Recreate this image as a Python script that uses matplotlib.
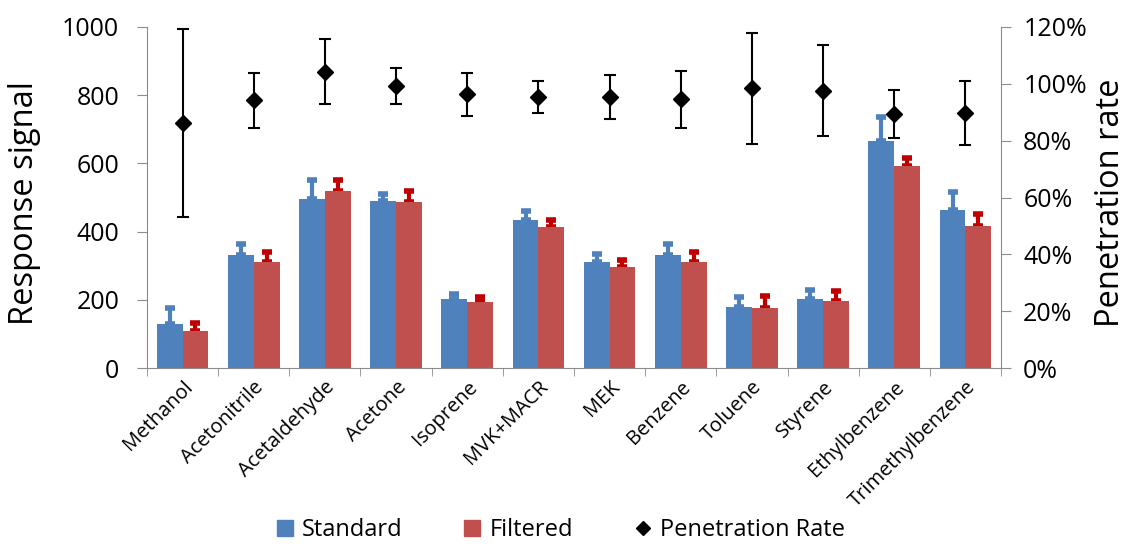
import numpy as np
import matplotlib
matplotlib.use('Agg')
from matplotlib import pyplot as plt
from matplotlib.patches import Patch
from matplotlib.lines import Line2D
from matplotlib.ticker import PercentFormatter

plt.rcParams['font.family'] = ['Open Sans', 'DejaVu Sans']

compounds = ['Methanol', 'Acetonitrile', 'Acetaldehyde', 'Acetone', 'Isoprene', 'MVK+MACR',
             'MEK', 'Benzene', 'Toluene', 'Styrene', 'Ethylbenzene', 'Trimethylbenzene']
standard = [129, 332, 497, 490, 202, 435, 311, 332, 180, 202, 665, 464]
standard_err = [47, 32, 53, 21, 16, 24, 23, 32, 28, 27, 70, 52]
filtered = [109, 311, 519, 487, 194, 413, 296, 311, 176, 197, 593, 417]
filtered_err = [23, 29, 31, 31, 14, 21, 21, 29, 36, 28, 23, 34]
penetration = [86.2, 94.2, 104.3, 99.3, 96.3, 95.4, 95.4, 94.5, 98.5, 97.6, 89.3, 89.7]
penetration_err = [33.0, 9.6, 11.4, 6.4, 7.6, 5.5, 7.6, 9.9, 19.5, 16.0, 8.5, 11.2]

blue = '#4F81BD'
red = '#C0504D'
axis_grey = '#8c8c8c'

fig = plt.figure(figsize=(11.27, 5.45), dpi=100)
ax = fig.add_axes([147 / 1127, 1 - 368 / 545, 854 / 1127, 341 / 545])
x = np.arange(len(compounds))
w = 0.362

ax.bar(x - w / 2, standard, w, color=blue, zorder=2)
ax.bar(x + w / 2, filtered, w, color=red, zorder=2)
ax.errorbar(x - w / 2, standard, yerr=[np.zeros(len(x)), standard_err], fmt='none',
            ecolor=blue, elinewidth=3, capsize=3.3, capthick=4, zorder=1)
ax.errorbar(x + w / 2, filtered, yerr=[np.zeros(len(x)), filtered_err], fmt='none',
            ecolor='#C00000', elinewidth=3, capsize=3.3, capthick=4, zorder=1)

ax.set_xlim(-0.5, len(x) - 0.5)
ax.set_ylim(0, 1000)
ax.set_yticks(range(0, 1001, 200))
ax.set_xticks(x)
ax.set_xticklabels(compounds, rotation=45, ha='right', va='top', rotation_mode='anchor',
                   fontsize=14.5)
ax.set_xticks(np.arange(-0.5, len(x)), minor=True)
ax.tick_params(axis='x', which='major', length=0, pad=6.5)
ax.tick_params(axis='x', which='minor', length=6, color=axis_grey, direction='out')
ax.tick_params(axis='y', length=7, color=axis_grey, labelsize=18, pad=13)
ax.set_ylabel('Response signal', fontsize=23.5, va='center')
ax.yaxis.set_label_coords(-0.144, 0.484)
for side in ['top', 'right']:
    ax.spines[side].set_visible(False)
for side in ['left', 'bottom']:
    ax.spines[side].set_color(axis_grey)

ax2 = ax.twinx()
ax2.errorbar(x, penetration, yerr=penetration_err, fmt='D', color='black', markersize=8,
             ecolor='black', elinewidth=1.5, capsize=4, capthick=1.5)
ax2.set_ylim(0, 120)
ax2.set_yticks(range(0, 121, 20))
ax2.yaxis.set_major_formatter(PercentFormatter(decimals=0))
ax2.tick_params(axis='y', length=7, color=axis_grey, labelsize=18, pad=9)
ax2.set_ylabel('Penetration rate', fontsize=23.5, va='center')
ax2.yaxis.set_label_coords(1.128, 0.484)
for side in ['top', 'left', 'bottom']:
    ax2.spines[side].set_visible(False)
ax2.spines['right'].set_color(axis_grey)

handles = [Patch(color=blue, label='Standard'),
           Patch(color=red, label='Filtered'),
           Line2D([], [], marker='D', color='black', linestyle='none', markersize=7,
                  label='Penetration Rate')]
fig.legend(handles=handles, loc='center', bbox_to_anchor=(561 / 1127, 1 - 530 / 545), ncol=3,
           frameon=False, fontsize=17, handlelength=0.68, handleheight=0.68,
           handletextpad=0.4, columnspacing=2.6, borderpad=0)

fig.savefig('out.png', dpi=100)
